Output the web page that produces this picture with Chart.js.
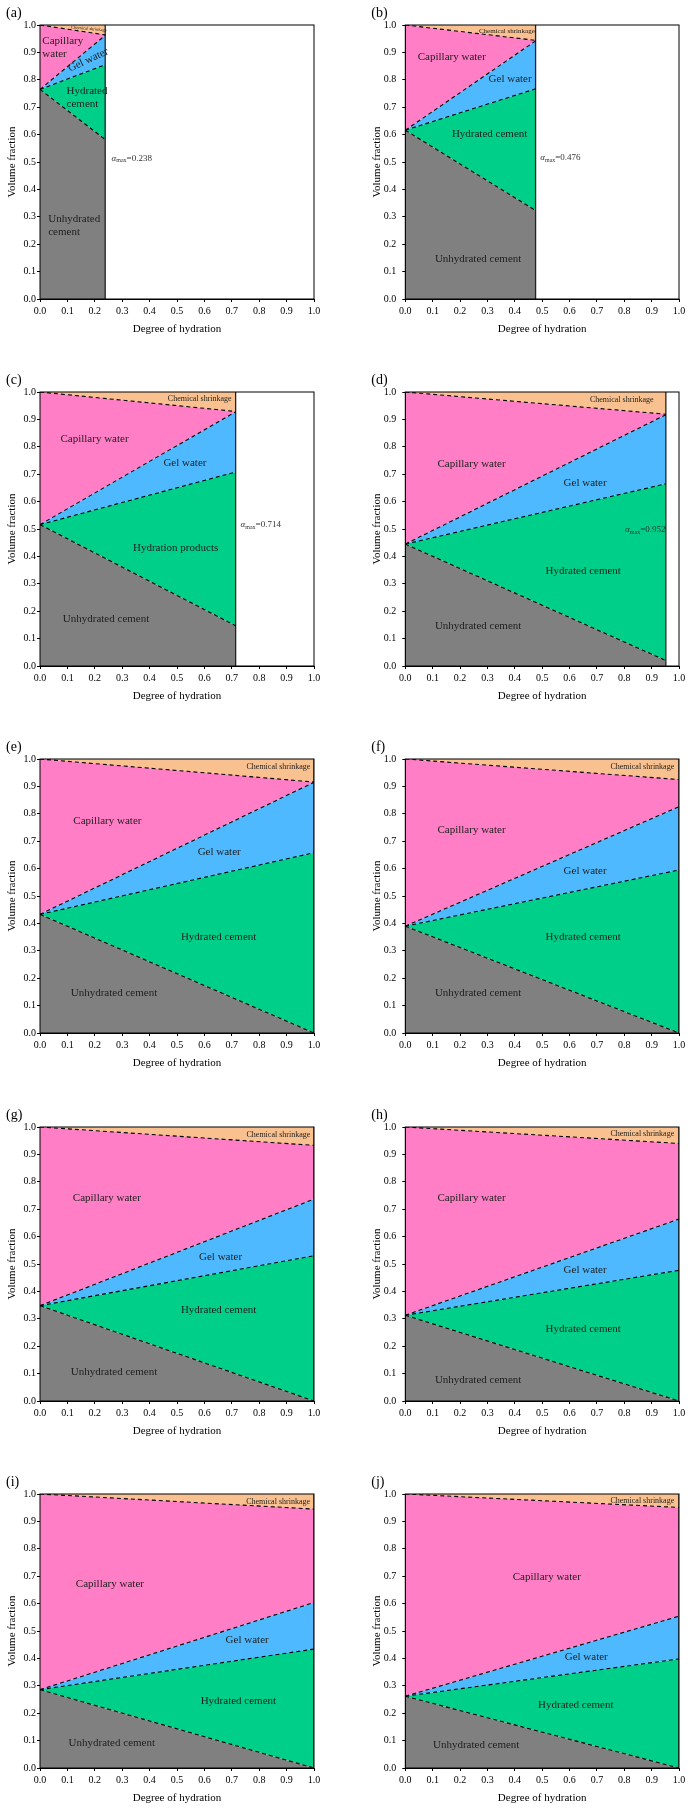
<!DOCTYPE html>
<html>
<head>
<meta charset="utf-8">
<script src="https://cdn.jsdelivr.net/npm/chart.js@4.4.1/dist/chart.umd.min.js"></script>
<style>
html, body { margin: 0; padding: 0; background: #fff; overflow: hidden; }
#wrap { position: relative; width: 692px; height: 1809px; }
.cell { position: absolute; width: 346px; height: 340px; }
.cell canvas { display: block; }
</style>
</head>
<body>
<div id="wrap"></div>
<script>
// values, one entry per panel (a)..(j)
var panelIds      = ['a', 'b', 'c', 'd', 'e', 'f', 'g', 'h', 'i', 'j'];
var alphaMax      = [0.238, 0.476, 0.714, 0.952, 1, 1, 1, 1, 1, 1];
var startFrac     = [0.765, 0.616, 0.516, 0.445, 0.433, 0.390, 0.348, 0.313, 0.286, 0.262];
var unhydratedEnd = [0.582, 0.323, 0.147, 0.020, 0, 0, 0, 0, 0, 0];
var hydratedEnd   = [0.855, 0.767, 0.708, 0.665, 0.658, 0.595, 0.530, 0.477, 0.434, 0.398];
var gelEnd        = [0.962, 0.942, 0.928, 0.917, 0.915, 0.826, 0.737, 0.664, 0.604, 0.554];
var capillaryEnd  = [0.964, 0.944, 0.929, 0.919, 0.916, 0.925, 0.933, 0.940, 0.945, 0.951];
var tickValues    = [0, 0.1, 0.2, 0.3, 0.4, 0.5, 0.6, 0.7, 0.8, 0.9, 1.0];

var layerColors = ['#808080', '#00cf89', '#4fb9ff', '#ff7ec5', '#f8c18f'];
var serif = "'Liberation Serif', 'Times New Roman', serif";

// text spots inside each panel: [text, x, y, size, align, rotation deg]
var spots = {
  a: [[['Capillary', 'water'], 0.0085, 0.943, 11, 'left', 0],
      [['Gel water'], 0.176, 0.872, 11, 'center', -25],
      [['Hydrated', 'cement'], 0.097, 0.759, 11, 'left', 0],
      [['Unhydrated', 'cement'], 0.030, 0.292, 11, 'left', 0],
      [['Chemical shrinkage'], 0.179, 0.986, 4.5, 'center', 5]],
  b: [[['Chemical shrinkage'], 0.371, 0.979, 7, 'center', 0],
      [['Capillary water'], 0.170, 0.884, 11, 'center', 0],
      [['Gel water'], 0.383, 0.802, 11, 'center', 0],
      [['Hydrated cement'], 0.308, 0.601, 11, 'center', 0],
      [['Unhydrated cement'], 0.266, 0.146, 11, 'center', 0]],
  c: [[['Chemical shrinkage'], 0.583, 0.974, 8, 'center', 0],
      [['Capillary water'], 0.199, 0.828, 11, 'center', 0],
      [['Gel water'], 0.529, 0.739, 11, 'center', 0],
      [['Hydration products'], 0.495, 0.430, 11, 'center', 0],
      [['Unhydrated cement'], 0.241, 0.170, 11, 'center', 0]],
  d: [[['Chemical shrinkage'], 0.791, 0.972, 8, 'center', 0],
      [['Capillary water'], 0.242, 0.738, 11, 'center', 0],
      [['Gel water'], 0.657, 0.667, 11, 'center', 0],
      [['Hydrated cement'], 0.650, 0.348, 11, 'center', 0],
      [['Unhydrated cement'], 0.266, 0.145, 11, 'center', 0]],
  e: [[['Chemical shrinkage'], 0.870, 0.970, 8, 'center', 0],
      [['Capillary water'], 0.246, 0.774, 11, 'center', 0],
      [['Gel water'], 0.654, 0.659, 11, 'center', 0],
      [['Hydrated cement'], 0.652, 0.349, 11, 'center', 0],
      [['Unhydrated cement'], 0.270, 0.147, 11, 'center', 0]],
  f: [[['Chemical shrinkage'], 0.866, 0.970, 8, 'center', 0],
      [['Capillary water'], 0.242, 0.741, 11, 'center', 0],
      [['Gel water'], 0.657, 0.592, 11, 'center', 0],
      [['Hydrated cement'], 0.650, 0.349, 11, 'center', 0],
      [['Unhydrated cement'], 0.266, 0.147, 11, 'center', 0]],
  g: [[['Chemical shrinkage'], 0.870, 0.970, 8, 'center', 0],
      [['Capillary water'], 0.244, 0.740, 11, 'center', 0],
      [['Gel water'], 0.659, 0.524, 11, 'center', 0],
      [['Hydrated cement'], 0.652, 0.333, 11, 'center', 0],
      [['Unhydrated cement'], 0.270, 0.107, 11, 'center', 0]],
  h: [[['Chemical shrinkage'], 0.866, 0.974, 8, 'center', 0],
      [['Capillary water'], 0.242, 0.740, 11, 'center', 0],
      [['Gel water'], 0.657, 0.476, 11, 'center', 0],
      [['Hydrated cement'], 0.650, 0.264, 11, 'center', 0],
      [['Unhydrated cement'], 0.266, 0.078, 11, 'center', 0]],
  i: [[['Chemical shrinkage'], 0.869, 0.972, 8, 'center', 0],
      [['Capillary water'], 0.255, 0.671, 11, 'center', 0],
      [['Gel water'], 0.756, 0.467, 11, 'center', 0],
      [['Hydrated cement'], 0.724, 0.244, 11, 'center', 0],
      [['Unhydrated cement'], 0.262, 0.092, 11, 'center', 0]],
  j: [[['Chemical shrinkage'], 0.866, 0.974, 8, 'center', 0],
      [['Capillary water'], 0.517, 0.697, 11, 'center', 0],
      [['Gel water'], 0.661, 0.403, 11, 'center', 0],
      [['Hydrated cement'], 0.623, 0.229, 11, 'center', 0],
      [['Unhydrated cement'], 0.259, 0.082, 11, 'center', 0]]
};
// where the alpha_max note sits (left edge x, y) for the partial panels
var alphaSpot = { a: [0.261, 0.514], b: [0.493, 0.515], c: [0.732, 0.516], d: [0.803, 0.498] };

var rowTops = [0, 367, 734, 1102, 1469];

var panelText = {
  id: 'panelText',
  afterDatasetsDraw: function (chart, args, opts) {
    var ctx = chart.ctx, xs = chart.scales.x, ys = chart.scales.y;
    var id = opts.id;
    ctx.save();
    ctx.fillStyle = '#1e1e1e';
    ctx.textBaseline = 'middle';
    spots[id].forEach(function (s) {
      var px = xs.getPixelForValue(s[1]), py = ys.getPixelForValue(s[2]);
      ctx.save();
      ctx.translate(px, py);
      ctx.rotate(s[5] * Math.PI / 180);
      ctx.font = s[3] + 'px ' + serif;
      ctx.textAlign = s[4];
      s[0].forEach(function (line, k) { ctx.fillText(line, 0, k * 13.2); });
      ctx.restore();
    });
    if (alphaSpot[id]) {
      var ax = xs.getPixelForValue(alphaSpot[id][0]), ay = ys.getPixelForValue(alphaSpot[id][1]);
      ctx.fillStyle = '#333';
      ctx.textAlign = 'left';
      ctx.font = 'italic 9px ' + serif;
      ctx.fillText('\u03b1', ax, ay);
      ax += ctx.measureText('\u03b1').width;
      ctx.font = '6px ' + serif;
      ctx.fillText('max', ax, ay + 2.5);
      ax += ctx.measureText('max').width;
      ctx.font = '9px ' + serif;
      ctx.fillText('=' + alphaMax[panelIds.indexOf(id)].toFixed(3), ax, ay);
    }
    ctx.restore();
  },
  afterDraw: function (chart, args, opts) {
    var ctx = chart.ctx, ca = chart.chartArea;
    ctx.save();
    ctx.strokeStyle = '#000';
    ctx.lineWidth = 1;
    ctx.strokeRect(ca.left, ca.top, ca.right - ca.left, ca.bottom - ca.top);
    ctx.fillStyle = '#000';
    ctx.font = '14px ' + serif;
    ctx.textAlign = 'left';
    ctx.textBaseline = 'middle';
    ctx.fillText('(' + opts.id + ')', ca.left - 34, ca.top - 11.5);
    ctx.restore();
  }
};

function line(x0, y0, x1, y1) { return [{ x: x0, y: y0 }, { x: x1, y: y1 }]; }

function buildChart(i) {
  var col = i % 2, row = Math.floor(i / 2);
  var end = alphaMax[i], p0 = startFrac[i];
  var div = document.createElement('div');
  div.className = 'cell';
  div.style.left = (col * 346) + 'px';
  div.style.top = rowTops[row] + 'px';
  var cv = document.createElement('canvas');
  cv.width = 346;
  cv.height = 340;
  cv.style.width = '346px';
  cv.style.height = '340px';
  div.appendChild(cv);
  document.getElementById('wrap').appendChild(div);

  var dash = { borderColor: '#000', borderDash: [4, 3], borderWidth: 1.1, pointRadius: 0 };
  var sets = [
    Object.assign({ label: 'Unhydrated cement', data: line(0, p0, end, unhydratedEnd[i]), fill: 'origin', backgroundColor: layerColors[0] }, dash),
    Object.assign({ label: 'Hydrated cement', data: line(0, p0, end, hydratedEnd[i]), fill: '-1', backgroundColor: layerColors[1] }, dash),
    Object.assign({ label: 'Gel water', data: line(0, p0, end, gelEnd[i]), fill: '-1', backgroundColor: layerColors[2] }, dash),
    Object.assign({ label: 'Capillary water', data: line(0, 1, end, capillaryEnd[i]), fill: '-1', backgroundColor: layerColors[3] }, dash),
    { label: 'Chemical shrinkage', data: line(0, 1, end, 1), fill: '-1', backgroundColor: layerColors[4],
      borderColor: 'rgba(0,0,0,0)', borderWidth: 0, pointRadius: 0 },
    { label: 'alpha max', data: line(end, 0, end, 1), fill: false, borderColor: '#222', borderWidth: 1.3, pointRadius: 0 }
  ];

  var tickFont = { family: serif, size: 10 };
  var titleFont = { family: serif, size: 11 };
  new Chart(cv, {
    type: 'line',
    data: { datasets: sets },
    options: {
      responsive: false,
      animation: false,
      events: [],
      layout: { padding: { left: col ? 19.3 : 0, right: col ? 13 : 32, top: 25, bottom: 0 } },
      plugins: {
        legend: { display: false },
        tooltip: { enabled: false },
        filler: { drawTime: 'beforeDatasetsDraw' },
        panelText: { id: panelIds[i] }
      },
      scales: {
        x: {
          type: 'linear', min: 0, max: 1,
          afterBuildTicks: function (s) { s.ticks = tickValues.map(function (v) { return { value: v }; }); },
          afterFit: function (s) { s.height = 41; },
          ticks: { callback: function (v) { return v.toFixed(1); }, font: tickFont, color: '#000', padding: 3, maxRotation: 0, autoSkip: false },
          grid: { drawOnChartArea: false, drawTicks: true, tickLength: 3, color: '#000' },
          border: { color: '#000', width: 1 },
          title: { display: true, text: 'Degree of hydration', font: titleFont, color: '#000', padding: { top: 0, bottom: 4 } }
        },
        y: {
          type: 'linear', min: 0, max: 1,
          afterBuildTicks: function (s) { s.ticks = tickValues.map(function (v) { return { value: v }; }); },
          afterFit: function (s) { s.width = 40; },
          ticks: { callback: function (v) { return v.toFixed(1); }, font: tickFont, color: '#000', padding: col ? 6 : 1, autoSkip: false },
          grid: { drawOnChartArea: false, drawTicks: true, tickLength: 3, color: '#000' },
          border: { color: '#000', width: 1 },
          title: { display: true, text: 'Volume fraction', font: titleFont, color: '#000', padding: { top: 5.7, bottom: 0 } }
        }
      }
    },
    plugins: [panelText]
  });
}

for (var i = 0; i < panelIds.length; i++) buildChart(i);
</script>
</body>
</html>
